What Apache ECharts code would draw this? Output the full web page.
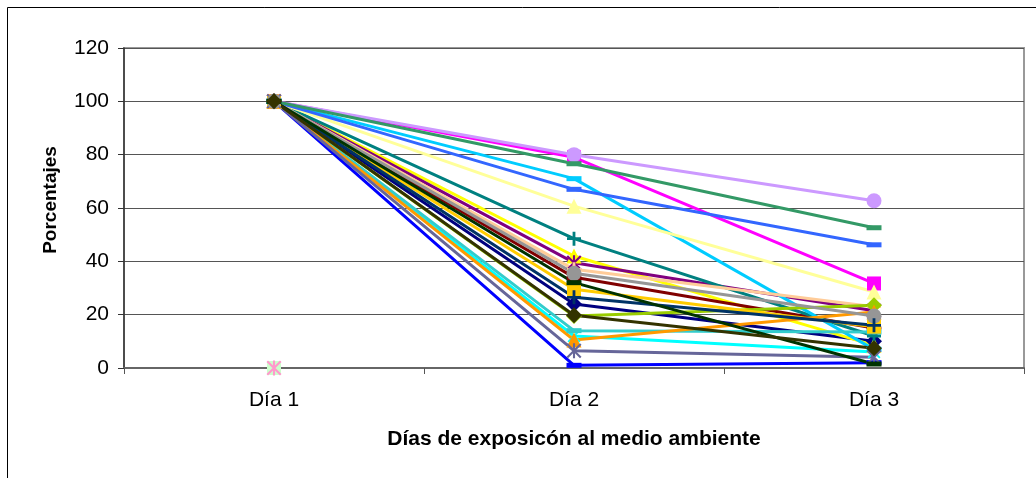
<!DOCTYPE html>
<html>
<head>
<meta charset="utf-8">
<script src="https://cdn.jsdelivr.net/npm/echarts@6/dist/echarts.min.js"></script>
<style>
  html, body { margin: 0; padding: 0; background: #fff; }
  #chart { width: 1036px; height: 478px; }
</style>
</head>
<body>
<div id="chart"></div>
<script>
// Porcentaje remanente por muestra durante tres días de exposición
const categories = ['Día 1', 'Día 2', 'Día 3'];
const yMin = 0, yMax = 120, yStep = 20;

const m01 = [100, 24, 10];
const m02 = [100, 79, 31.7];
const m03 = [100, 42, 8.5];
const m04 = [100, 12, 6];
const m05 = [100, 39.5, 21.5];
const m06 = [100, 34, 15];
const m07 = [100, 48.5, 12];
const m08 = [100, 1, 2];
const m09 = [100, 71, 7];
const m11 = [0, null, null];
const m12 = [100, 60.7, 28.5];
const m14 = [0, null, null];
const m15 = [100, 80, 62.7];
const m16 = [100, 37, 23];
const m17 = [100, 67, 46.2];
const m18 = [100, 14, 13.5];
const m19 = [100, 19.5, 23.5];
const m20 = [100, 29.5, 15.5];
const m21 = [100, 10.5, 21];
const m23 = [100, 6.5, 4];
const m24 = [100, 35.5, 19.5];
const m25 = [100, 26.5, 16];
const m26 = [100, 76.6, 52.6];
const m27 = [100, 32, 1.5];
const m28 = [100, 19.8, 7.4];

// marker shapes
const PLUS = 'path://M4,0H6V4H10V6H6V10H4V6H0V4H4Z';
const CROSS = 'path://M0,1L1,0L10,9L9,10Z M9,0L10,1L1,10L0,9Z';
const STAR = 'path://M0,1L1,0L10,9L9,10Z M9,0L10,1L1,10L0,9Z M4.3,0H5.7V10H4.3Z';

const marker = {
  diamond: { symbol: 'diamond', size: 16 },
  square: { symbol: 'rect', size: 14 },
  triangle: { symbol: 'triangle', size: 15 },
  cross: { symbol: CROSS, size: 13 },
  star: { symbol: STAR, size: 15 },
  circle: { symbol: 'circle', size: 15 },
  plus: { symbol: PLUS, size: 14 },
  dash: { symbol: 'rect', size: [15, 5] }
};

// [values, colour, marker]
const samples = [
  [m01, '#000080', 'diamond'],
  [m02, '#FF00FF', 'square'],
  [m03, '#FFFF00', 'triangle'],
  [m04, '#00FFFF', 'cross'],
  [m05, '#800080', 'star'],
  [m06, '#800000', 'circle'],
  [m07, '#008080', 'plus'],
  [m08, '#0000FF', 'dash'],
  [m09, '#00CCFF', 'dash'],
  [m11, '#CCFFCC', 'square'],
  [m12, '#FFFF99', 'triangle'],
  [m14, '#FF99CC', 'star'],
  [m15, '#CC99FF', 'circle'],
  [m16, '#FFCC99', 'plus'],
  [m17, '#3366FF', 'dash'],
  [m18, '#33CCCC', 'dash'],
  [m19, '#99CC00', 'diamond'],
  [m20, '#FFCC00', 'square'],
  [m21, '#FF9900', 'triangle'],
  [m23, '#666699', 'star'],
  [m24, '#969696', 'circle'],
  [m25, '#003366', 'plus'],
  [m26, '#339966', 'dash'],
  [m27, '#003300', 'dash'],
  [m28, '#333300', 'diamond']
];

const FONT = '"Liberation Sans", Arial, sans-serif';

const series = samples.map(([values, color, shape], i) => ({
  name: 'M' + (i + 1),
  type: 'line',
  data: values,
  symbol: marker[shape].symbol,
  symbolSize: marker[shape].size,
  showAllSymbol: true,
  connectNulls: false,
  lineStyle: { color: color, width: 3 },
  itemStyle: { color: color, borderColor: color, borderWidth: 0 },
  emphasis: { disabled: true }
}));

const chart = echarts.init(document.getElementById('chart'), null, { renderer: 'canvas' });
chart.setOption({
  animation: false,
  backgroundColor: '#ffffff',
  textStyle: { fontFamily: FONT },
  graphic: [{
    type: 'rect',
    shape: { x: 7.5, y: 7.5, width: 1200, height: 1000 },
    style: { fill: null, stroke: '#000', lineWidth: 1 },
    silent: true
  }],
  grid: {
    left: 124, right: 12, top: 48, bottom: 110,
    show: true, borderColor: '#999', borderWidth: 2, backgroundColor: 'transparent'
  },
  xAxis: {
    type: 'category',
    data: categories,
    boundaryGap: true,
    axisLine: { lineStyle: { color: '#666', width: 2 } },
    axisTick: { show: true, length: 6, lineStyle: { color: '#555' } },
    axisLabel: { color: '#000', fontSize: 21, fontFamily: FONT, margin: 22 },
    name: 'Días de exposicón al medio ambiente',
    nameLocation: 'middle',
    nameGap: 61,
    nameTextStyle: { color: '#000', fontSize: 21, fontWeight: 'bold', fontFamily: FONT }
  },
  yAxis: {
    type: 'value',
    min: yMin, max: yMax, interval: yStep,
    axisLine: { show: true, lineStyle: { color: '#333', width: 1.5 } },
    axisTick: { show: true, length: 6, lineStyle: { color: '#333' } },
    axisLabel: { color: '#000', fontSize: 21, fontFamily: FONT, margin: 15 },
    splitLine: { show: true, lineStyle: { color: '#555', width: 1 } },
    name: 'Porcentajes',
    nameLocation: 'middle',
    nameGap: 64,
    nameTextStyle: { color: '#000', fontSize: 19, fontWeight: 'bold', fontFamily: FONT, padding: [0, 0, 0, 16] }
  },
  series: series
});
</script>
</body>
</html>
